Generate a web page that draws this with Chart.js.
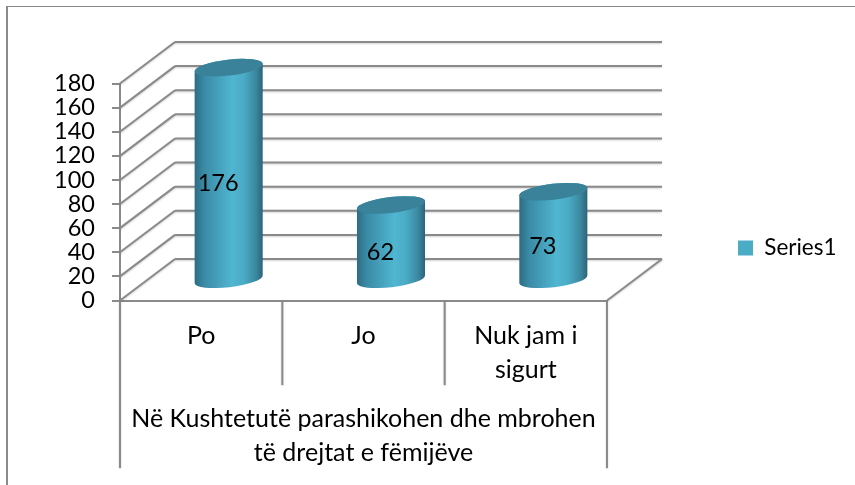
<!DOCTYPE html>
<html>
<head>
<meta charset="utf-8">
<script src="https://cdn.jsdelivr.net/npm/chart.js@4"></script>
<style>
  html, body { margin: 0; padding: 0; background: #fff; }
  canvas { display: block; }
</style>
</head>
<body>
<canvas id="grafico" width="855" height="485"></canvas>
<script>
const categories = ["Po", "Jo", ["Nuk jam i", "sigurt"]];
const values = [176, 62, 73];
const seriesName = "Series1";
const groupLabel = ["Në Kushtetutë parashikohen dhe mbrohen", "të drejtat e fëmijëve"];
const yMax = 180;
const yStep = 20;

const FONT = { family: "Lato, Carlito, sans-serif", size: 25 };
const NUM_FONT = { family: FONT.family, size: 23.5 };
const LEGEND_FONT = { family: FONT.family, size: 22.5 };
const GRID = "#8a8a8a";
// how far the back wall sits from the front edge of the floor
const DEPTH_X = 55;
const DEPTH_Y = -41.5;

function linha(ctx, x1, y1, x2, y2, w) {
  ctx.lineWidth = w;
  ctx.beginPath();
  ctx.moveTo(x1, y1);
  ctx.lineTo(x2, y2);
  ctx.stroke();
}

const moldura = {
  id: "moldura",
  beforeDraw(chart) {
    const ctx = chart.ctx;
    ctx.save();
    ctx.fillStyle = "#fff";
    ctx.fillRect(0, 0, chart.width, chart.height);
    ctx.fillStyle = GRID;
    ctx.fillRect(6, 6, chart.width - 6, 1);
    ctx.fillRect(6, 6, 2, chart.height - 6);
    ctx.restore();
  }
};

const legendaPos = {
  id: "legendaPos",
  afterLayout(chart) {
    const lg = chart.legend;
    lg.left = 738 - lg.options.labels.padding;
    lg.right = lg.left + 110;
    lg.top = 238;
    lg.bottom = 258;
  }
};

const paredes = {
  id: "paredes",
  beforeDatasetsDraw(chart) {
    const ctx = chart.ctx;
    const { left, right, bottom } = chart.chartArea;
    const y = chart.scales.y;
    ctx.save();
    ctx.strokeStyle = GRID;
    ctx.shadowColor = "rgba(0,0,0,0.18)";
    ctx.shadowBlur = 2;
    ctx.shadowOffsetY = 1;
    y.ticks.forEach(t => {
      const py = y.getPixelForValue(t.value);
      linha(ctx, left, py, left + DEPTH_X, py + DEPTH_Y, 2);
      linha(ctx, left + DEPTH_X, py + DEPTH_Y, right + DEPTH_X, py + DEPTH_Y, 2);
    });
    linha(ctx, right, bottom, right + DEPTH_X, bottom + DEPTH_Y, 2);

    // separators under the axis: short ones for categories, long ones for the group
    const passo = (right - left) / categories.length;
    for (let i = 0; i <= categories.length; i++) {
      const px = left + i * passo;
      const fim = (i === 0 || i === categories.length) ? 468 : 385;
      linha(ctx, px, bottom, px, fim, 2);
    }
    ctx.restore();
  },
  // draw every bar as a cylinder standing in the middle of the floor
  beforeDatasetDraw(chart, args) {
    const ctx = chart.ctx;
    const rot = -0.115;
    args.meta.data.forEach(el => {
      const cx = el.x + DEPTH_X / 2;
      const topo = el.y + DEPTH_Y / 2;
      const base = el.base + DEPTH_Y / 2 + 0.5;
      const rx = el.width / 2;
      const ry = 8;

      const g = ctx.createLinearGradient(cx - rx, 0, cx + rx, 0);
      g.addColorStop(0, "#2d6b82");
      g.addColorStop(0.14, "#3a8aa5");
      g.addColorStop(0.55, "#50b6d1");
      g.addColorStop(0.72, "#4aabc5");
      g.addColorStop(0.9, "#3a879f");
      g.addColorStop(1, "#2b6377");

      ctx.save();
      ctx.fillStyle = g;
      ctx.beginPath();
      ctx.ellipse(cx, base, rx, ry, rot, 0, Math.PI);
      ctx.ellipse(cx, topo, rx, ry, rot, Math.PI, Math.PI * 2);
      ctx.closePath();
      ctx.fill();

      ctx.fillStyle = "#39829a";
      ctx.beginPath();
      ctx.ellipse(cx, topo, rx, ry, rot, 0, Math.PI * 2);
      ctx.fill();
      ctx.restore();
    });
    return false;
  },
  afterDatasetsDraw(chart) {
    const ctx = chart.ctx;
    const meta = chart.getDatasetMeta(0);
    ctx.save();
    ctx.fillStyle = "#000";
    ctx.font = NUM_FONT.size + "px " + NUM_FONT.family;
    ctx.textAlign = "center";
    ctx.textBaseline = "middle";
    meta.data.forEach((el, i) => {
      ctx.fillText(values[i], el.x + 17, (el.y + el.base) / 2 - 10);
    });
    ctx.restore();
  }
};

new Chart(document.getElementById("grafico"), {
  type: "bar",
  data: {
    labels: categories,
    datasets: [{
      label: seriesName,
      data: values,
      backgroundColor: "#4bacc6",
      categoryPercentage: 1,
      barPercentage: 0.422
    }]
  },
  plugins: [moldura, legendaPos, paredes],
  options: {
    responsive: false,
    animation: false,
    layout: {
      autoPadding: false,
      padding: { left: 0, top: 83.5, right: 138, bottom: 0 }
    },
    plugins: {
      tooltip: { enabled: false },
      legend: {
        position: "right",
        maxWidth: 110,
        labels: { boxWidth: 15, boxHeight: 15, padding: 4, color: "#000", font: LEGEND_FONT }
      }
    },
    scales: {
      x: {
        afterFit(s) { s.height = 184.5; },
        border: { color: GRID, width: 2 },
        grid: { drawOnChartArea: false, drawTicks: false },
        ticks: { color: "#000", font: { ...FONT, lineHeight: 1.35 }, padding: 19, maxRotation: 0, autoSkip: false },
        title: {
          display: true,
          text: groupLabel,
          color: "#000",
          font: { ...FONT, lineHeight: 1.35 },
          padding: { top: 0, bottom: 15 }
        }
      },
      y: {
        min: 0,
        max: yMax,
        afterFit(s) { s.width = 120; },
        border: { color: GRID, width: 2 },
        grid: { drawOnChartArea: false, color: GRID, lineWidth: 2, tickLength: 8 },
        ticks: { stepSize: yStep, autoSkip: false, color: "#000", font: NUM_FONT, padding: 17 }
      }
    }
  }
});
</script>
</body>
</html>
